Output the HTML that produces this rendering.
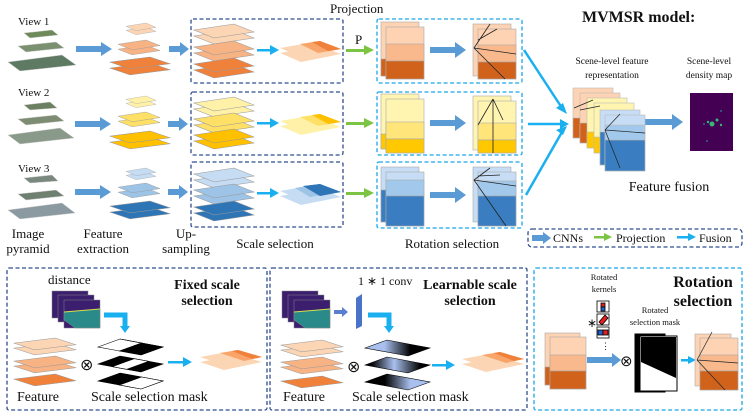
<!DOCTYPE html>
<html><head><meta charset="utf-8"><style>
html,body{margin:0;padding:0;background:#fff}
svg{display:block}
text{font-family:"Liberation Serif",serif;fill:#111}
</style></head><body>
<svg width="748" height="415" viewBox="0 0 748 415" xmlns="http://www.w3.org/2000/svg">
<defs>
<polygon id="L" points="0,6 40,0 60,8 20,14" stroke="#999" stroke-width="0.6"/>
<linearGradient id="g1" x1="0" x2="1"><stop offset="0.1" stop-color="#000"/><stop offset="0.45" stop-color="#a9c0ef"/><stop offset="0.85" stop-color="#000"/></linearGradient>
<linearGradient id="g2" x1="0" x2="1"><stop offset="0.3" stop-color="#a9c0ef"/><stop offset="0.7" stop-color="#000"/></linearGradient>
<linearGradient id="g3" x1="0" x2="1"><stop offset="0.3" stop-color="#000"/><stop offset="0.7" stop-color="#a9c0ef"/></linearGradient>
</defs>

<!-- dashed boxes -->
<g fill="none" stroke="#2f4f8f" stroke-width="1.3" stroke-dasharray="4,2.5">
<rect x="191" y="19" width="152" height="64" rx="2"/>
<rect x="191" y="92" width="152" height="63" rx="2"/>
<rect x="191" y="162" width="152" height="65" rx="2"/>
<rect x="528" y="229" width="214" height="18" rx="4"/>
<rect x="7" y="268" width="260" height="142" rx="2"/>
<rect x="270" y="268" width="257" height="142" rx="2"/>
</g>
<g fill="none" stroke="#1aa8e8" stroke-width="1.3" stroke-dasharray="4,2.5">
<rect x="377" y="19" width="145" height="64" rx="2"/>
<rect x="377" y="92" width="145" height="63" rx="2"/>
<rect x="377" y="162" width="145" height="66" rx="2"/>
<rect x="534" y="268" width="208" height="142" rx="2"/>
</g>

<text x="18" y="25" font-size="11">View 1</text>
<text x="18" y="96" font-size="11">View 2</text>
<text x="18" y="172" font-size="11">View 3</text>
<g stroke="#ccc" stroke-width="0.5">
<polygon points="24,33 52,30 58,35 30,38" fill="#6f8a5a"/>
<polygon points="18,46 56,42 64,48 26,52" fill="#7a9070"/>
<polygon points="8,62 62,55 76,65 20,71" fill="#5e7a62"/>
<polygon points="24,105 50,102 57,108 30,110" fill="#6b8060"/>
<polygon points="18,119 56,115 64,121 26,125" fill="#7d8c72"/>
<polygon points="8,135 60,128 74,138 20,144" fill="#8a9a8a"/>
<polygon points="24,178 52,175 58,181 30,183" fill="#7a8880"/>
<polygon points="18,194 56,190 64,196 26,200" fill="#6f8070"/>
<polygon points="8,210 62,203 75,213 20,219" fill="#8a9aa0"/>
</g>

<g fill="#5b9bd5">
<polygon points="76,46 101,46 101,42 112,49 101,56 101,52 76,52"/>
<polygon points="75,121 100,121 100,117 111,124 100,131 100,127 75,127"/>
<polygon points="75,189 100,189 100,185 111,192 100,199 100,195 75,195"/>
<polygon points="169,46 180,46 180,42 189,49 180,56 180,52 169,52"/>
<polygon points="168,121 179,121 179,117 188,124 179,131 179,127 168,127"/>
<polygon points="168,189 179,189 179,185 188,192 179,199 179,195 168,195"/>
<polygon points="430,47 455,47 455,42 466,50 455,58 455,53 430,53"/>
<polygon points="430,120 455,120 455,115 466,123 455,131 455,126 430,126"/>
<polygon points="430,192 455,192 455,187 466,195 455,203 455,198 430,198"/>
<polygon points="643,119 672,119 672,114 683,122 672,130 672,125 643,125"/>
<polygon points="587,357 612,357 612,353 621,360 612,367 612,363 587,363"/>
<polygon points="532,235 543,235 543,232 551,238 543,244 543,241 532,241"/>
</g>

<g>
<use href="#L" fill="#fcd5b5" transform="translate(126,27) scale(0.5,0.55)"/>
<use href="#L" fill="#fcd5b5" transform="translate(126,23) scale(0.5,0.55)"/>
<use href="#L" fill="#f8b384" transform="translate(118,45) scale(0.7,0.7)"/>
<use href="#L" fill="#f8b384" transform="translate(118,40) scale(0.7,0.7)"/>
<use href="#L" fill="#f0813a" transform="translate(110,63) scale(1,0.85)"/>
<use href="#L" fill="#f0813a" transform="translate(110,57) scale(1,0.85)"/>
<use href="#L" fill="#fff2a8" transform="translate(126,100) scale(0.5,0.55)"/>
<use href="#L" fill="#fff2a8" transform="translate(126,96) scale(0.5,0.55)"/>
<use href="#L" fill="#ffe066" transform="translate(118,117) scale(0.7,0.7)"/>
<use href="#L" fill="#ffe066" transform="translate(118,112) scale(0.7,0.7)"/>
<use href="#L" fill="#ffc000" transform="translate(110,137) scale(1,0.85)"/>
<use href="#L" fill="#ffc000" transform="translate(110,131) scale(1,0.85)"/>
<use href="#L" fill="#c5dcf2" transform="translate(126,172) scale(0.5,0.55)"/>
<use href="#L" fill="#c5dcf2" transform="translate(126,168) scale(0.5,0.55)"/>
<use href="#L" fill="#9dc3e6" transform="translate(118,188) scale(0.7,0.7)"/>
<use href="#L" fill="#9dc3e6" transform="translate(118,183) scale(0.7,0.7)"/>
<use href="#L" fill="#2e75b6" transform="translate(110,207) scale(1,0.85)"/>
<use href="#L" fill="#2e75b6" transform="translate(110,201) scale(1,0.85)"/>
</g>

<g>
<use href="#L" fill="#fcd5b5" transform="translate(194,30)"/>
<use href="#L" fill="#fcd5b5" transform="translate(194,24)"/>
<use href="#L" fill="#f8b384" transform="translate(194,47)"/>
<use href="#L" fill="#f8b384" transform="translate(194,41)"/>
<use href="#L" fill="#f0813a" transform="translate(194,64)"/>
<use href="#L" fill="#f0813a" transform="translate(194,58)"/>
<use href="#L" fill="#fff2a8" transform="translate(194,103)"/>
<use href="#L" fill="#fff2a8" transform="translate(194,97)"/>
<use href="#L" fill="#ffe066" transform="translate(194,119)"/>
<use href="#L" fill="#ffe066" transform="translate(194,113)"/>
<use href="#L" fill="#ffc000" transform="translate(194,135)"/>
<use href="#L" fill="#ffc000" transform="translate(194,129)"/>
<use href="#L" fill="#c5dcf2" transform="translate(194,174)"/>
<use href="#L" fill="#c5dcf2" transform="translate(194,168)"/>
<use href="#L" fill="#9dc3e6" transform="translate(194,190)"/>
<use href="#L" fill="#9dc3e6" transform="translate(194,184)"/>
<use href="#L" fill="#2e75b6" transform="translate(194,207)"/>
<use href="#L" fill="#2e75b6" transform="translate(194,201)"/>
</g>
<g>
<polygon points="280,53 320,46 341,54 301,62" fill="#fcd5b5"/>
<polygon points="280,48 320,41 341,49 301,57" fill="#fcd5b5"/>
<polygon points="300,44 320,41 341,49 318,53" fill="#f9a56a"/>
<polygon points="312,42 320,41 341,49 328,51" fill="#f0813a"/>
<polygon points="280,126 320,119 341,127 301,135" fill="#fff2a8"/>
<polygon points="280,121 320,114 341,122 301,130" fill="#fff2a8"/>
<polygon points="300,117 320,114 341,122 318,126" fill="#ffe066"/>
<polygon points="312,115 320,114 341,122 328,124" fill="#ffc000"/>
<polygon points="280,196 320,189 341,197 301,205" fill="#c5dcf2"/>
<polygon points="280,191 320,184 341,192 301,200" fill="#c5dcf2"/>
<polygon points="295,188 320,184 341,192 310,197" fill="#9dc3e6"/>
<polygon points="303,186 320,184 341,192 320,196" fill="#2e75b6"/>
</g>

<g fill="#1ab0f0">
<rect x="257" y="49" width="14" height="2.5"/><polygon points="270,45 279,50 270,55"/>
<rect x="257" y="122" width="14" height="2.5"/><polygon points="270,118 279,123 270,128"/>
<rect x="257" y="192" width="14" height="2.5"/><polygon points="270,188 279,193 270,198"/>
<rect x="168" y="361" width="16" height="2.5"/><polygon points="183,357 192,362 183,367"/>
<rect x="432" y="364" width="15" height="2.5"/><polygon points="446,360 455,365 446,370"/>
<rect x="681" y="359" width="8" height="2.5"/><polygon points="688,356 696,360 688,364"/>
<rect x="677" y="236" width="12" height="2.5"/><polygon points="688,233 696,237 688,241"/>
</g>
<g fill="#7cc444">
<rect x="346" y="49" width="20" height="3"/><polygon points="364,45 374,50 364,55"/>
<rect x="346" y="122" width="20" height="3"/><polygon points="364,118 374,123 364,128"/>
<rect x="346" y="192" width="20" height="3"/><polygon points="364,188 374,193 364,198"/>
<rect x="594" y="236" width="11" height="2.5"/><polygon points="604,233 612,237 604,241"/>
</g>
<text x="355" y="44" font-size="13">P</text>
<text x="330" y="13" font-size="13">Projection</text>

<g stroke="#aaa" stroke-width="0.6">
<rect x="381" y="22" width="38" height="54" fill="#fdd3b3"/>
<rect x="381" y="59" width="38" height="17" fill="#d0621c"/>
<rect x="386" y="27" width="38" height="52" fill="#fdd3b3"/>
<rect x="386" y="44" width="38" height="17" fill="#f9b98c"/>
<rect x="386" y="61" width="38" height="18" fill="#d0621c"/>
<rect x="473" y="24" width="38" height="52" fill="#fdd3b3"/>
<rect x="478" y="29" width="38" height="50" fill="#fdd3b3"/>
<rect x="478" y="45" width="38" height="17" fill="#f9b98c"/>
<rect x="478" y="62" width="38" height="17" fill="#d0621c"/>
<rect x="381" y="94" width="38" height="55" fill="#fff5b0"/>
<rect x="381" y="134" width="38" height="15" fill="#ffc800"/>
<rect x="386" y="99" width="38" height="54" fill="#fff5b0"/>
<rect x="386" y="122" width="38" height="17" fill="#ffe57a"/>
<rect x="386" y="139" width="38" height="14" fill="#ffc800"/>
<rect x="473" y="96" width="38" height="54" fill="#fff5b0"/>
<rect x="478" y="101" width="38" height="52" fill="#fff5b0"/>
<rect x="478" y="123" width="38" height="17" fill="#ffe57a"/>
<rect x="478" y="140" width="38" height="13" fill="#ffc800"/>
<rect x="381" y="167" width="38" height="55" fill="#c6ddf5"/>
<rect x="381" y="190" width="38" height="32" fill="#3a7dc0"/>
<rect x="386" y="172" width="38" height="54" fill="#c6ddf5"/>
<rect x="386" y="180" width="38" height="16" fill="#a2c8ec"/>
<rect x="386" y="196" width="38" height="30" fill="#3a7dc0"/>
<rect x="473" y="167" width="38" height="55" fill="#c6ddf5"/>
<rect x="478" y="172" width="38" height="54" fill="#c6ddf5"/>
<rect x="478" y="181" width="38" height="15" fill="#a2c8ec"/>
<rect x="478" y="196" width="38" height="30" fill="#3a7dc0"/>
</g>
<g stroke="#222" stroke-width="0.8" fill="none">
<path d="M474,48 L490,24 M474,48 L516,54 M474,48 L505,79 M478,40 L497,29"/>
<path d="M493,99 L478,125 M493,99 L503,120 M493,99 V153"/>
<path d="M474,180 L490,168 M474,180 L516,186 M474,180 L506,226 M478,176 L500,175"/>
</g>

<g stroke="#1ab0f0" stroke-width="2.5">
<line x1="524" y1="50" x2="562" y2="108"/>
<line x1="528" y1="124" x2="562" y2="124"/>
<line x1="526" y1="195" x2="562" y2="132"/>
</g>
<g fill="#1ab0f0">
<polygon points="567,114 556,108 563,103"/>
<polygon points="569,124 560,119 560,129"/>
<polygon points="567,126 563,135 556,130"/>
</g>

<g stroke="#bbb" stroke-width="0.6">
<rect x="573" y="88" width="40" height="50" fill="#fdd3b3"/>
<rect x="573" y="118" width="40" height="20" fill="#d0621c"/>
<rect x="580" y="93" width="40" height="50" fill="#fdd3b3"/>
<rect x="580" y="123" width="40" height="20" fill="#d0621c"/>
<rect x="587" y="98" width="40" height="50" fill="#fff5b0"/>
<rect x="587" y="132" width="40" height="16" fill="#ffc800"/>
<rect x="594" y="103" width="40" height="50" fill="#fff5b0"/>
<rect x="594" y="137" width="40" height="16" fill="#ffc800"/>
<rect x="600" y="110" width="40" height="55" fill="#c6ddf5"/>
<rect x="600" y="132" width="40" height="33" fill="#3a7dc0"/>
<rect x="605" y="115" width="40" height="56" fill="#c6ddf5"/>
<rect x="605" y="125" width="40" height="15" fill="#a2c8ec"/>
<rect x="605" y="140" width="40" height="31" fill="#3a7dc0"/>
</g>
<g stroke="#222" stroke-width="0.7" fill="none">
<path d="M605,130 L645,133 M605,130 L620,114 M605,130 L620,168 M574,108 L593,100 M580,110 L600,106"/>
</g>
<rect x="690" y="93" width="43" height="58" fill="#440154"/>
<g fill="#35b779"><circle cx="712" cy="124" r="2.5"/><circle cx="717" cy="120" r="1.5"/><circle cx="708" cy="122" r="1.2"/><circle cx="721" cy="125" r="1.2"/></g>
<g fill="#31688e"><circle cx="721" cy="111" r="1"/><circle cx="707" cy="141" r="1"/><circle cx="704" cy="124" r="1"/></g>

<text x="582" y="22" font-size="16" font-weight="bold">MVMSR model:</text>
<g font-size="9.5" text-anchor="middle">
<text x="612" y="64">Scene-level feature</text>
<text x="612" y="78">representation</text>
<text x="709" y="64">Scene-level</text>
<text x="709" y="78">density map</text>
</g>
<text x="669" y="191" font-size="14" text-anchor="middle">Feature fusion</text>

<g font-size="13" text-anchor="middle">
<text x="28" y="238">Image</text><text x="28" y="253">pyramid</text>
<text x="103" y="238">Feature</text><text x="103" y="253">extraction</text>
<text x="186" y="238">Up-</text><text x="186" y="253">sampling</text>
<text x="275" y="248">Scale selection</text>
<text x="452" y="248">Rotation selection</text>
</g>
<g font-size="12">
<text x="553" y="242">CNNs</text>
<text x="616" y="242">Projection</text>
<text x="699" y="242">Fusion</text>
</g>

<!-- ===== bottom box 1 ===== -->
<text x="48" y="284" font-size="13">distance</text>
<g stroke="#888" stroke-width="0.5">
<rect x="52" y="291" width="36" height="27" fill="#3b1e6e"/>
<rect x="58" y="295" width="36" height="27" fill="#3b1e6e"/>
<rect x="64" y="300" width="36" height="28" fill="#3b1e6e"/>
<polygon points="64,312 100,309 100,328 75,328 64,320" fill="#2a8a8a"/>
<line x1="64" y1="312" x2="100" y2="309" stroke="#d6e04a" stroke-width="1"/>
<rect x="282" y="291" width="36" height="27" fill="#3b1e6e"/>
<rect x="288" y="295" width="36" height="27" fill="#3b1e6e"/>
<rect x="294" y="300" width="36" height="28" fill="#3b1e6e"/>
<polygon points="294,312 330,309 330,328 305,328 294,320" fill="#2a8a8a"/>
<line x1="294" y1="312" x2="330" y2="309" stroke="#d6e04a" stroke-width="1"/>
</g>
<g font-size="14" font-weight="bold" text-anchor="middle">
<text x="207" y="289">Fixed scale</text><text x="207" y="305">selection</text>
<text x="470" y="289">Learnable scale</text><text x="470" y="305">selection</text>
</g>
<g font-size="16" font-weight="bold" text-anchor="middle">
<text x="703" y="287">Rotation</text><text x="703" y="306">selection</text>
</g>
<path d="M104,315 H125 V327" stroke="#1ab0f0" stroke-width="5" fill="none"/>
<polygon points="120,326 130,326 125,333" fill="#1ab0f0"/>
<path d="M368,315 H389 V327" stroke="#1ab0f0" stroke-width="5" fill="none"/>
<polygon points="384,326 394,326 389,333" fill="#1ab0f0"/>
<polygon points="334,310 342,310 342,307 348,312 342,317 342,314 334,314" fill="#5b7fd0"/>
<polygon points="356,298 362,294 362,326 356,329" fill="#4a72c8"/>
<text x="358" y="285" font-size="12">1 ∗ 1 conv</text>

<g>
<use href="#L" fill="#fcd5b5" transform="translate(14,343) scale(1.03,0.85)"/>
<use href="#L" fill="#fcd5b5" transform="translate(14,338) scale(1.03,0.85)"/>
<use href="#L" fill="#f8b384" transform="translate(14,361) scale(1.03,0.85)"/>
<use href="#L" fill="#f8b384" transform="translate(14,356) scale(1.03,0.85)"/>
<use href="#L" fill="#f0813a" transform="translate(14,374) scale(1.03,0.85)"/>
<use href="#L" fill="#fcd5b5" transform="translate(281,345) scale(1.03,0.85)"/>
<use href="#L" fill="#fcd5b5" transform="translate(281,340) scale(1.03,0.85)"/>
<use href="#L" fill="#f8b384" transform="translate(281,362) scale(1.03,0.85)"/>
<use href="#L" fill="#f8b384" transform="translate(281,357) scale(1.03,0.85)"/>
<use href="#L" fill="#f0813a" transform="translate(281,376) scale(1.03,0.85)"/>
</g>
<text x="80" y="370" font-size="16">⊗</text>
<text x="347" y="372" font-size="16">⊗</text>

<!-- fixed masks -->
<g stroke="#000" stroke-width="0.6">
<g transform="translate(98,339)">
<polygon points="0,8 22,0 43.5,4 21.5,12" fill="#fff"/>
<polygon points="43.5,4 22,0 65,8 43,16" fill="#000"/>
<polygon points="43.5,4 65,8 43,16 21.5,12" fill="#000"/>
</g>
<g transform="translate(98,356)">
<polygon points="0,8 22,0 65,8 43,16" fill="#000"/>
<polygon points="36.3,2.7 50.7,5.3 28.7,13.3 14.3,10.7" fill="#fff"/>
</g>
<g transform="translate(98,373)">
<polygon points="0,8 22,0 65,8 43,16" fill="#000"/>
<polygon points="43.5,4 65,8 43,16 21.5,12" fill="#fff"/>
</g>
</g>
<!-- learnable masks -->
<g stroke="#000" stroke-width="0.6">
<polygon transform="translate(365,340)" points="0,8 22,0 65,8 43,16" fill="url(#g2)"/>
<polygon transform="translate(365,357)" points="0,8 22,0 65,8 43,16" fill="url(#g1)"/>
<polygon transform="translate(365,374)" points="0,8 22,0 65,8 43,16" fill="url(#g3)"/>
</g>
<!-- results -->
<g>
<polygon points="200,362 238,355 262,362 224,370" fill="#fcd5b5"/>
<polygon points="200,357 238,350 262,357 224,365" fill="#fcd5b5"/>
<polygon points="220,353 238,350 262,357 244,361" fill="#f9a56a"/>
<polygon points="232,351 238,350 262,357 252,359" fill="#f0813a"/>
<polygon points="462,364 500,357 524,364 486,372" fill="#fcd5b5"/>
<polygon points="462,359 500,352 524,359 486,367" fill="#fcd5b5"/>
<polygon points="482,355 500,352 524,359 506,363" fill="#f9a56a"/>
<polygon points="494,353 500,352 524,359 514,361" fill="#f0813a"/>
</g>
<g font-size="14">
<text x="17" y="401">Feature</text><text x="91" y="401">Scale selection mask</text>
<text x="283" y="401">Feature</text><text x="352" y="401">Scale selection mask</text>
</g>

<!-- ===== box 3 ===== -->
<g font-size="8.5" text-anchor="middle">
<text x="604" y="280">Rotated</text><text x="604" y="292">kernels</text>
<text x="655" y="313">Rotated</text><text x="655" y="325">selection mask</text>
</g>
<g stroke="#000" stroke-width="0.8">
<rect x="597" y="301" width="12" height="11" fill="#fff"/>
<rect x="601" y="303" width="4" height="4" fill="#e02020"/>
<rect x="601" y="307" width="4" height="4" fill="#2060d0"/>
<rect x="597" y="314" width="12" height="11" fill="#fff"/>
<polygon points="599,322 605,315 608,318 602,325" fill="#e02020"/>
<rect x="597" y="327" width="12" height="11" fill="#fff"/>
<rect x="598" y="330" width="5" height="5" fill="#2060d0"/>
<rect x="603" y="330" width="5" height="5" fill="#e02020"/>
</g>
<text x="587" y="327" font-size="12">∗</text>
<text x="601" y="349" font-size="9">⋮</text>
<g stroke="#aaa" stroke-width="0.6">
<rect x="545" y="333" width="35" height="52" fill="#fdd3b3"/>
<rect x="545" y="367" width="35" height="18" fill="#d0621c"/>
<rect x="550" y="337" width="36" height="52" fill="#fdd3b3"/>
<rect x="550" y="355" width="36" height="16" fill="#f9b98c"/>
<rect x="550" y="371" width="36" height="18" fill="#d0621c"/>
<rect x="695" y="334" width="36" height="52" fill="#fdd3b3"/>
<rect x="700" y="338" width="38" height="52" fill="#fdd3b3"/>
<rect x="700" y="355" width="38" height="16" fill="#f9b98c"/>
<rect x="700" y="371" width="38" height="19" fill="#d0621c"/>
</g>
<g stroke="#222" stroke-width="0.7" fill="none"><path d="M697,360 L712,332 M697,360 L738,363 M697,360 L725,390"/></g>
<rect x="635" y="334" width="30" height="58" fill="#000" stroke="#000"/>
<rect x="640" y="336" width="37" height="55" fill="#fff" stroke="#000"/>
<polygon points="641,337 676,337 676,378 641,362" fill="#000"/>
<text x="620" y="366" font-size="15">⊗</text>
</svg>
</body></html>
